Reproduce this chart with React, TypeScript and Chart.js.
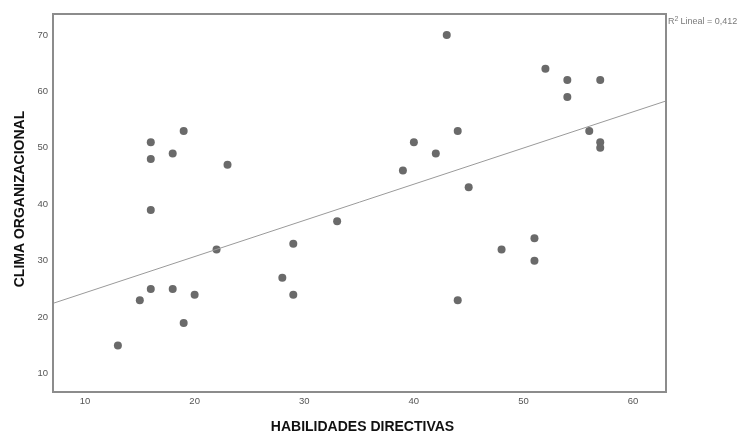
import React, { useEffect, useRef } from "react";
import { Chart, registerables } from "chart.js";

Chart.register(...registerables);

const habilidades = [16, 16, 19, 18, 23, 16, 43, 52, 54, 57, 54, 44, 40, 42, 39, 45, 56, 57, 57, 33, 22, 29, 28, 29, 16, 18, 15, 20, 19, 13, 51, 48, 51, 44];
const clima = [51, 48, 53, 49, 47, 39, 70, 64, 62, 62, 59, 53, 51, 49, 46, 43, 53, 51, 50, 37, 32, 33, 27, 24, 25, 25, 23, 24, 19, 15, 34, 32, 30, 23];
const fitX = [7.08, 63];
const fitY = [22.46, 58.3];
const xTicks = [10, 20, 30, 40, 50, 60];
const yTicks = [10, 20, 30, 40, 50, 60, 70];
const xTitle = "HABILIDADES DIRECTIVAS";
const yTitle = "CLIMA ORGANIZACIONAL";
const r2Label = "0,412";

export default function App() {
  const ref = useRef<HTMLCanvasElement>(null);
  useEffect(() => {
    const ctx = ref.current!.getContext("2d")!;
    const framePlugin = {
      id: "frame",
      afterDatasetsDraw(chart: any) {
        const { ctx, chartArea: a } = chart;
        ctx.save();
        ctx.strokeStyle = "#8c8c8c";
        ctx.lineWidth = 2;
        ctx.strokeRect(a.left, a.top, a.right - a.left, a.bottom - a.top);
        ctx.restore();
      },
      afterDraw(chart: any) {
        const { ctx, chartArea: a } = chart;
        ctx.save();
        ctx.fillStyle = "#111";
        ctx.font = "bold 14px 'Liberation Sans', Arial, sans-serif";
        ctx.textAlign = "center";
        ctx.textBaseline = "middle";
        ctx.fillText(xTitle, (a.left + a.right) / 2 + 3, 427);
        ctx.translate(20, 199);
        ctx.rotate(-Math.PI / 2);
        ctx.fillText(yTitle, 0, 0);
        ctx.restore();
        ctx.save();
        ctx.fillStyle = "#7a7a7a";
        ctx.textBaseline = "middle";
        ctx.textAlign = "left";
        let x = a.right + 2;
        const y = 22;
        ctx.font = "9px 'Liberation Sans', Arial, sans-serif";
        ctx.fillText("R", x, y);
        x += ctx.measureText("R").width;
        ctx.font = "7px 'Liberation Sans', Arial, sans-serif";
        ctx.fillText("2", x, y - 3);
        x += ctx.measureText("2").width + 2;
        ctx.font = "9px 'Liberation Sans', Arial, sans-serif";
        ctx.fillText("Lineal = " + r2Label, x, y);
        ctx.restore();
      },
    };
    const chart = new Chart(ctx, {
      type: "scatter",
      data: {
        datasets: [
          {
            type: "line",
            data: fitX.map((x, i) => ({ x, y: fitY[i] })),
            borderColor: "#9a9a9a",
            borderWidth: 1,
            pointRadius: 0,
            fill: false,
          } as any,
          {
            data: habilidades.map((x, i) => ({ x, y: clima[i] })),
            backgroundColor: "#6a6a6a",
            borderColor: "#6a6a6a",
            pointRadius: 4,
            borderWidth: 0,
          },
        ],
      },
      options: {
        animation: false,
        responsive: false,
        maintainAspectRatio: false,
        layout: { padding: { top: 14, right: 74, left: 0, bottom: 0 } },
        plugins: { legend: { display: false }, tooltip: { enabled: false } },
        scales: {
          x: {
            type: "linear",
            min: 7.08,
            max: 63,
            grid: { display: false, drawTicks: false },
            border: { display: false },
            afterFit(scale: any) {
              scale.height = 43;
            },
            afterBuildTicks(scale: any) {
              scale.ticks = xTicks.map((v) => ({ value: v }));
            },
            ticks: {
              padding: 4,
              color: "#555",
              font: { size: 9.5, family: "'Liberation Sans', Arial, sans-serif" },
              maxRotation: 0,
            },
          },
          y: {
            type: "linear",
            min: 6.76,
            max: 73.7,
            grid: { display: false, drawTicks: false },
            border: { display: false },
            afterFit(scale: any) {
              scale.width = 53;
            },
            afterBuildTicks(scale: any) {
              scale.ticks = yTicks.map((v) => ({ value: v }));
            },
            ticks: {
              padding: 5,
              color: "#555",
              font: { size: 9.5, family: "'Liberation Sans', Arial, sans-serif" },
            },
          },
        },
      },
      plugins: [framePlugin],
    });
    return () => chart.destroy();
  }, []);
  return (
    <div style={{ position: "fixed", left: 0, top: 0, width: 740, height: 435, background: "#fff" }}>
      <canvas ref={ref} width={740} height={435} style={{ width: 740, height: 435 }} />
    </div>
  );
}
